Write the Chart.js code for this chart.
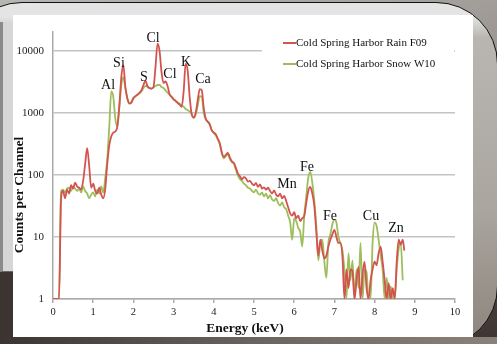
<!DOCTYPE html>
<html><head><meta charset="utf-8">
<script src="https://cdn.jsdelivr.net/npm/chart.js@4.4.1/dist/chart.umd.min.js"></script>
<style>
html,body{margin:0;padding:0;width:497px;height:344px;overflow:hidden;}
body{position:relative;background:linear-gradient(160deg,#b8b6b2 0%,#9a9590 45%,#5a4e48 75%,#3e3330 100%);}
#frame{position:absolute;left:-40px;top:2px;width:538px;height:346px;border:1.5px solid #111;border-radius:62px;background:linear-gradient(180deg,#e4e4e4 0%,#e4e4e4 4%,#b9b6b1 10%,#aaa59f 60%,#8c847c 100%);box-sizing:border-box;}
#left{position:absolute;left:0;top:22px;width:13px;height:250px;background:#d6d6d6;border-left:3px solid #8a8a8a;border-bottom:1px solid #666;box-sizing:border-box;}
#lowleft{position:absolute;left:0;top:272px;width:13px;height:72px;background:#3c3430;}
#bottom{position:absolute;left:0;top:337px;width:497px;height:7px;background:linear-gradient(90deg,#3c3430,#6a625c 50%,#8a827a);}
#card{position:absolute;left:13px;top:15px;width:460px;height:322px;background:#fff;}
</style></head>
<body>
<div id="frame"></div>
<div id="left"></div>
<div id="lowleft"></div>
<div id="bottom"></div>
<div id="card"><canvas id="c" width="460" height="322"></canvas></div>
<script>
const energies = [0.00,0.05,0.10,0.15,0.20,0.25,0.30,0.35,0.40,0.45,0.50,0.55,0.60,0.65,0.70,0.75,0.80,0.85,0.90,0.95,
1.00,1.05,1.10,1.15,1.20,1.25,1.30,1.35,1.40,1.45,1.50,1.55,1.60,1.65,1.70,1.75,1.80,1.85,1.90,1.95,
2.00,2.05,2.10,2.15,2.20,2.25,2.30,2.35,2.40,2.45,2.50,2.55,2.60,2.65,2.70,2.75,2.80,2.85,2.90,2.95,
3.00,3.05,3.10,3.15,3.20,3.25,3.30,3.35,3.40,3.45,3.50,3.55,3.60,3.65,3.70,3.75,3.80,3.85,3.90,3.95,
4.00,4.05,4.10,4.15,4.20,4.25,4.30,4.35,4.40,4.45,4.50,4.55,4.60,4.65,4.70,4.75,4.80,4.85,4.90,4.95,
5.00,5.05,5.10,5.15,5.20,5.25,5.30,5.35,5.40,5.45,5.50,5.55,5.60,5.65,5.70,5.75,5.80,5.85,5.90,5.95,
6.00,6.05,6.10,6.15,6.20,6.25,6.30,6.35,6.40,6.45,6.50,6.55,6.60,6.65,6.70,6.75,6.80,6.85,6.90,6.95,
7.00,7.05,7.10,7.15,7.20,7.25,7.30,7.35,7.40,7.45,7.50,7.55,7.60,7.65,7.70,7.75,7.80,7.85,7.90,7.95,
8.00,8.05,8.10,8.15,8.20,8.25,8.30,8.35,8.40,8.45,8.50,8.55,8.60,8.65,8.70,8.74];

const rainF09 = [1,1,1,1,40,55,42,58,50,68,60,75,65,62,58,80,150,270,140,62,
72,55,50,62,48,42,60,150,300,420,480,500,600,1300,3800,5800,2600,1700,1400,1450,
1700,1850,1950,2100,2300,2800,3300,2700,2500,2450,2600,5500,13000,10000,4500,3000,3200,2700,2000,1800,
1650,1550,1450,1350,1250,2200,6200,4800,1800,950,840,1000,1600,2400,2300,1200,800,720,650,520,
480,450,380,320,230,195,210,225,190,165,155,130,105,95,85,92,88,78,80,72,
68,74,64,70,60,63,58,62,55,50,56,48,45,50,42,46,38,30,24,22,
25,20,22,18,20,22,35,55,64,50,32,12,5,9,6,4.5,5,7,9,11,
13,10,8,8,4.8,1,3,1.5,3,2.8,1,2,3.3,1,2.5,4,1.5,1,2,3,
4,3.5,5.5,7,4,2,1,1.8,1,1.5,1,4,9,7.5,9,6];

const snowW10 = [1,1,1,1,55,58,52,60,62,55,65,60,55,60,52,65,55,50,42,48,
52,45,58,50,65,52,90,180,600,2200,1800,800,600,1200,2800,3700,2500,1700,1450,1500,
1750,1850,1950,2050,2200,2500,2700,2600,2500,2450,2550,2700,2800,2800,2600,2500,2300,2100,1950,1800,
1650,1550,1450,1400,1300,1250,1150,1100,1050,950,820,950,1300,1850,1800,1000,780,720,640,520,
470,430,370,310,220,185,200,215,180,160,150,120,98,85,80,72,68,62,60,55,
52,58,50,48,52,45,50,42,47,40,38,42,35,32,36,30,28,22,17,9,
20,18,14,12,7,22,45,90,112,75,38,15,4.2,8,9,4,2.2,8,11,16,
19,17,10,8,6,2.9,1,5.5,2,4.2,1,3,1.5,8,1,3,2.7,1,1,8,
17,15,9,5,3,1,2.2,1,1.6,1,1,3,6.5,8,2,null];

const yTickValues = [1,10,100,1000,10000];
const xTickValues = [0,1,2,3,4,5,6,7,8,9,10];
const seriesNames = ['Cold Spring Harbor Rain F09','Cold Spring Harbor Snow W10'];
const peakLabels = ['Al','Si','S','Cl','Cl','K','Ca','Mn','Fe','Fe','Cu','Zn'];
const peakLabelE = [1.37,1.64,2.26,2.49,2.91,3.31,3.73,5.82,6.32,6.89,7.91,8.53];
const peakLabelV = [2800,6200,3700,16000,4100,6400,3400,71,134,21.8,21.8,14];
const xTitle = 'Energy (keV)';
const yTitle = 'Counts per Channel';

const RED = '#D4534F', GREEN = '#9DBE5A';
const SERIF = '"Liberation Serif","Times New Roman",serif';

const toXY = (vals) => energies.map((e,i)=>({x:e,y:vals[i]}));

const overlay = {
  id:'overlay',
  afterDatasetsDraw(chart){
    const ctx = chart.ctx, xs = chart.scales.x, ys = chart.scales.y;
    ctx.save();
    ctx.fillStyle = '#111';
    ctx.font = '14px '+SERIF;
    ctx.textAlign='center'; ctx.textBaseline='middle';
    peakLabels.forEach((t,i)=>{
      ctx.fillText(t, xs.getPixelForValue(peakLabelE[i]), ys.getPixelForValue(peakLabelV[i]));
    });
    ctx.fillStyle='#fff';
    ctx.fillRect(249,18,192,39);
    const cols=[RED,GREEN], rows=[28,49];
    ctx.font='11px '+SERIF; ctx.textAlign='left';
    seriesNames.forEach((n,i)=>{
      ctx.strokeStyle=cols[i]; ctx.lineWidth=2;
      ctx.beginPath(); ctx.moveTo(270,rows[i]); ctx.lineTo(283,rows[i]); ctx.stroke();
      ctx.fillStyle='#111';
      ctx.fillText(n,283,rows[i]);
    });
    ctx.font='bold 13.5px '+SERIF;
    ctx.textAlign='center';
    ctx.fillText(xTitle, 232, 314);
    ctx.translate(7,180); ctx.rotate(-Math.PI/2);
    ctx.fillText(yTitle,0,0);
    ctx.restore();
  }
};

new Chart(document.getElementById('c'),{
  type:'line',
  data:{datasets:[
    {label:seriesNames[0],data:toXY(rainF09),borderColor:RED,borderWidth:1.8,pointRadius:0,cubicInterpolationMode:'monotone',spanGaps:false},
    {label:seriesNames[1],data:toXY(snowW10),borderColor:GREEN,borderWidth:1.8,pointRadius:0,cubicInterpolationMode:'monotone',spanGaps:false}
  ]},
  options:{
    responsive:false,animation:false,
    layout:{padding:{left:0,right:18,top:17,bottom:0}},
    plugins:{legend:{display:false},tooltip:{enabled:false}},
    scales:{
      x:{type:'linear',min:0,max:10,
        afterBuildTicks(s){s.ticks=xTickValues.map(v=>({value:v}));},
        afterFit(s){s.height=38;},
        border:{color:'#aaa',width:1.5},
        grid:{drawOnChartArea:false,drawTicks:true,tickLength:4,color:'#aaa',lineWidth:1.5},
        ticks:{font:{family:SERIF,size:10.5},color:'#222',padding:3,maxRotation:0,callback:v=>String(v)}
      },
      y:{type:'logarithmic',min:1,max:20000,
        afterBuildTicks(s){s.ticks=yTickValues.map(v=>({value:v}));},
        afterFit(s){s.width=40;},
        border:{color:'#aaa',width:1.5},
        grid:{color:'#c4c4c4',lineWidth:1.5,drawTicks:false},
        ticks:{font:{family:SERIF,size:11},color:'#222',padding:9,callback:v=>String(v)}
      }
    }
  },
  plugins:[overlay]
});
</script>
</body></html>
